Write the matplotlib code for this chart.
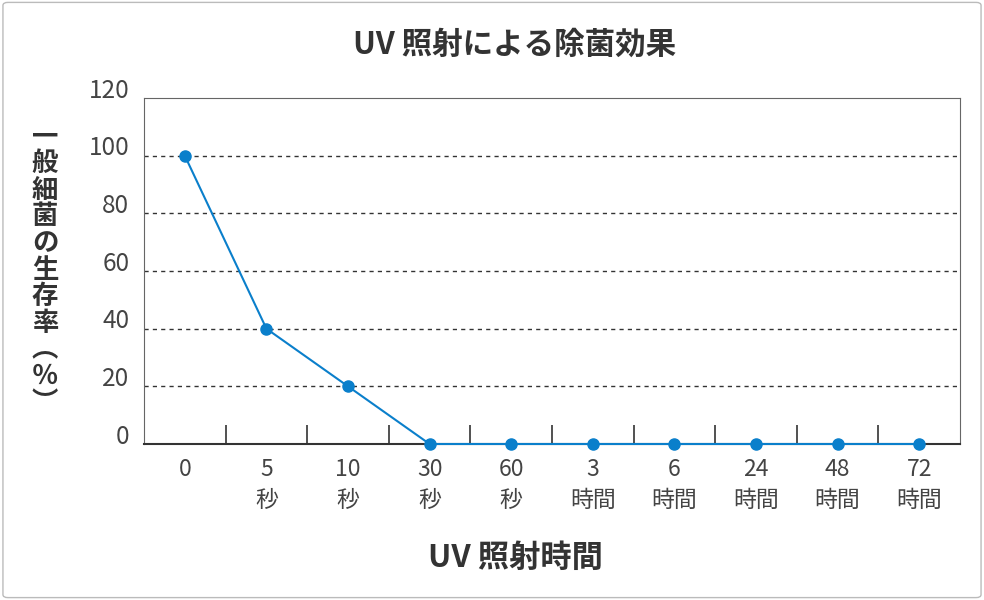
import matplotlib
matplotlib.use("Agg")
import matplotlib.pyplot as plt
from matplotlib.patches import FancyBboxPatch

plt.rcParams['font.family'] = ['Noto Sans CJK JP', 'DejaVu Sans']

categories = ["0", "5\n秒", "10\n秒", "30\n秒", "60\n秒", "3\n時間", "6\n時間", "24\n時間", "48\n時間", "72\n時間"]
values = [100, 40, 20, 0, 0, 0, 0, 0, 0, 0]
yticks = [0, 20, 40, 60, 80, 100, 120]

fig = plt.figure(figsize=(9.84, 6.0), dpi=100)
fig.patches.append(FancyBboxPatch((0.003, 0.004), 0.994, 0.992, boxstyle="round,pad=0,rounding_size=0.005",
                                  transform=fig.transFigure, fill=False, edgecolor="#bbbbbb", lw=1))
ax = fig.add_axes([144/984, 1-444/600, 816/984, 346/600])
blue = "#0a7fcb"
x = list(range(len(values)))
ax.plot(x, values, color=blue, lw=1.5, marker='o', markersize=8, zorder=3, clip_on=False)
ax.set_xlim(-0.5, 9.5)
ax.set_ylim(0, 120)
for y in yticks[1:-1]:
    ax.axhline(y, color="#333333", lw=1, ls=(0, (3, 3)))
for s in ['left', 'top', 'right']:
    ax.spines[s].set_color("#666666")
ax.spines['bottom'].set_color("#333333")
ax.spines['bottom'].set_linewidth(1.5)
ax.set_yticks([])
ax.set_xticks([i + 0.5 for i in range(9)])
ax.set_xticklabels([])
ax.tick_params(axis='x', direction='in', length=14, color="#333333", width=1.2)
for y in yticks:
    ax.text(-0.68, y + 2.6, str(y), ha='right', va='center', fontsize=17.5, color="#444444")
for i, c in enumerate(categories):
    ax.text(i, -5, c, ha='center', va='top', fontsize=16.5, color="#444444", linespacing=1.4)
fig.text(515/984, 1-45/600, "UV 照射による除菌効果", ha='center', va='center', fontsize=22, fontweight='bold', color="#333333")
fig.text(515/984, 1-558/600, "UV 照射時間", ha='center', va='center', fontsize=22.5, fontweight='bold', color="#333333")
ylab = "一般細菌の生存率︵％︶"
fig.text(45/984, 1-270/600, "\n".join(ylab), ha='center', va='center', fontsize=19, fontweight='bold',
         color="#333333", linespacing=0.98)
fig.savefig("out.png", dpi=100)
